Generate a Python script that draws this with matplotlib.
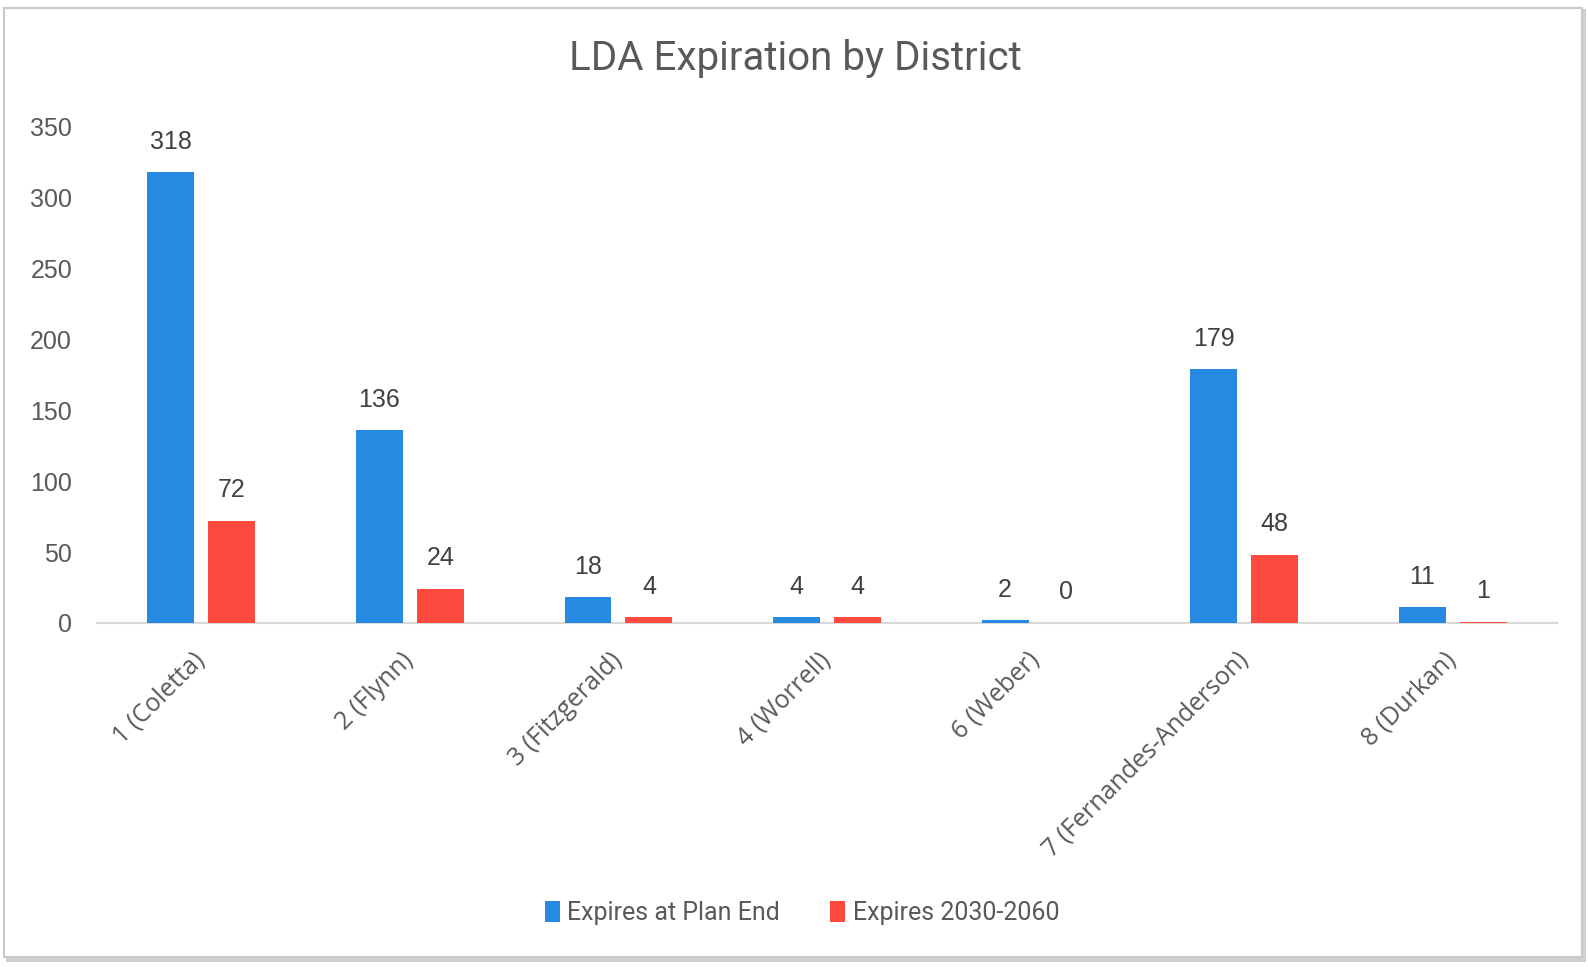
import matplotlib
matplotlib.use("Agg")
import matplotlib.pyplot as plt
from matplotlib.patches import Rectangle, Patch
import numpy as np

categories = ["1 (Coletta)", "2 (Flynn)", "3 (Fitzgerald)", "4 (Worrell)",
              "6 (Weber)", "7 (Fernandes-Anderson)", "8 (Durkan)"]
plan_end = [318, 136, 18, 4, 2, 179, 11]
expires_2030_2060 = [72, 24, 4, 4, 0, 48, 1]
series_names = ["Expires at Plan End", "Expires 2030-2060"]
yticks = [0, 50, 100, 150, 200, 250, 300, 350]

BLUE = "#2689e2"
RED = "#fd4a3e"
TXT = "#595959"
LBL = "#404040"

W, H = 1588, 967
fig = plt.figure(figsize=(W / 100, H / 100), dpi=100)
fig.patch.set_facecolor("white")

# chart frame with shadow
fig.patches.append(Rectangle((6 / W, 1 - 962 / H), 1580 / W, 953 / H, transform=fig.transFigure,
                             facecolor="#cfcfcf", edgecolor="none", zorder=-2))
fig.patches.append(Rectangle((4 / W, 1 - 957 / H), 1578 / W, 949 / H, transform=fig.transFigure,
                             facecolor="white", edgecolor="#c9c9c9", linewidth=1.5, zorder=-1))

ax = fig.add_axes([97 / W, 1 - 623 / H, 1460 / W, 496 / H])
ax.set_zorder(5)
ax.set_facecolor("none")
x = np.arange(len(categories))
bw = 0.225
off = 0.146
b1 = ax.bar(x - off, plan_end, bw, color=BLUE, zorder=3)
b2 = ax.bar(x + off, expires_2030_2060, bw, color=RED, zorder=3)

for bars, vals in ((b1, plan_end), (b2, expires_2030_2060)):
    for rect, v in zip(bars, vals):
        ax.annotate(str(v), (rect.get_x() + rect.get_width() / 2, v),
                    xytext=(0, 22), textcoords="offset points",
                    ha="center", va="center", fontsize=18,
                    family="Liberation Sans", color=LBL)

ax.set_xlim(-0.5, len(categories) - 0.5)
ax.set_ylim(0, 350)
ax.set_yticks(yticks)
ax.set_yticklabels([str(t) for t in yticks], fontsize=18, family="Liberation Sans", color=TXT)
ax.tick_params(axis="y", length=0, pad=18)
ax.set_xticks(x)
ax.set_xticklabels(categories, rotation=45, ha="right", va="center", rotation_mode="anchor",
                   fontsize=18, family="Open Sans", color=TXT)
ax.tick_params(axis="x", length=0, pad=24)
for s in ("top", "right", "left"):
    ax.spines[s].set_visible(False)
ax.spines["bottom"].set_color("#d9d9d9")
ax.spines["bottom"].set_linewidth(1.6)
ax.spines["bottom"].set_zorder(2)

fig.text(0.501, 1 - 59 / H, "LDA Expiration by District", ha="center", va="center",
         fontsize=29, family="Roboto", color=TXT)

handles = [Patch(facecolor=BLUE), Patch(facecolor=RED)]
fig.legend(handles, series_names, loc="center", bbox_to_anchor=(0.505, 1 - 913 / H),
           ncol=2, frameon=False, prop={"family": "Roboto", "size": 18},
           labelcolor=TXT, handlelength=0.6, handleheight=0.9, handletextpad=0.3,
           columnspacing=2.0)

fig.savefig("out.png", dpi=100)
